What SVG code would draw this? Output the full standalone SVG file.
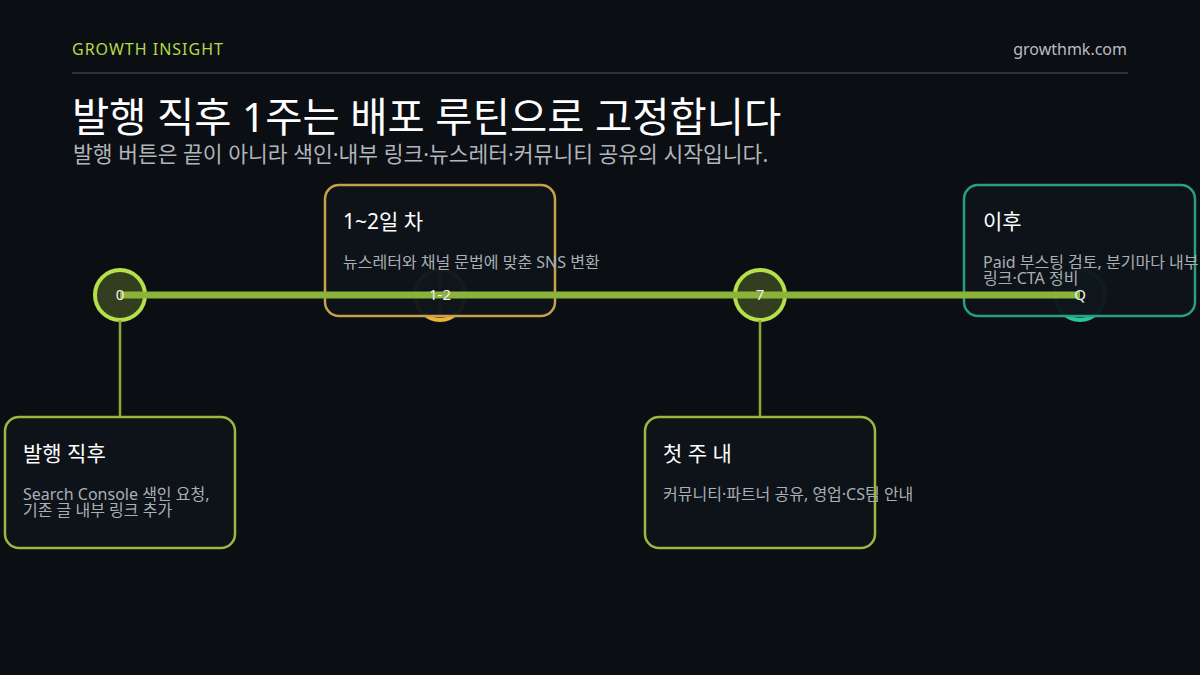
<svg xmlns="http://www.w3.org/2000/svg" width="1200" height="675" viewBox="0 0 1200 675">
<style>
text{font-family:"Noto Sans","Noto Sans CJK KR",sans-serif}
.card{fill:#0e141a;fill-opacity:0.96;stroke-width:2.5}
.ct{font-size:21px;fill:#ffffff}
.cd{font-size:16px;fill:#a9afb5}
.num{font-size:15px;fill:#f0f0f0;text-anchor:middle}
.ring{stroke-width:4}
</style>
<rect width="1200" height="675" fill="#0b0e13"/>
<g id="header">
<text x="72" y="55" font-size="16" fill="#b5d94a" letter-spacing="1">GROWTH INSIGHT</text>
<text x="1127" y="55" font-size="16" fill="#b8bcc2" text-anchor="end">growthmk.com</text>
<line x1="72" y1="73" x2="1128" y2="73" stroke="#2e3238" stroke-width="2"/>
<text x="72" y="132" font-size="40.5" fill="#ffffff">발행 직후 1주는 배포 루틴으로 고정합니다</text>
<text x="73" y="162" font-size="21.5" fill="#b0b5bb">발행 버튼은 끝이 아니라 색인·내부 링크·뉴스레터·커뮤니티 공유의 시작입니다.</text>
</g>
<g id="markers">
<circle cx="120" cy="295" r="25" fill="#333d1f" stroke="#b5e04a" class="ring"/>
<circle cx="440" cy="295" r="25" fill="#3d3420" stroke="#f0b03a" class="ring"/>
<circle cx="760" cy="295" r="25" fill="#333d1f" stroke="#b5e04a" class="ring"/>
<circle cx="1080" cy="295" r="25" fill="#1d3a33" stroke="#2bc49a" class="ring"/>
</g>
<g id="connectors" stroke-width="2.5">
<line x1="120" y1="320" x2="120" y2="417" stroke="#8fa83a"/>
<line x1="760" y1="320" x2="760" y2="417" stroke="#8fa83a"/>
<line x1="440" y1="270" x2="440" y2="316" stroke="#b8923a"/>
<line x1="1080" y1="270" x2="1080" y2="316" stroke="#2a9e85"/>
</g>
<g id="card-day0">
<rect class="card" x="5" y="417" width="230" height="131" rx="14" stroke="#9ab83e"/>
<text class="ct" x="23" y="461">발행 직후</text>
<text class="cd" x="23" y="500">Search Console 색인 요청,</text>
<text class="cd" x="23" y="516">기존 글 내부 링크 추가</text>
</g>
<g id="card-day12">
<rect class="card" x="325" y="185" width="230" height="131" rx="14" stroke="#c9a04a"/>
<text class="ct" x="343" y="229">1~2일 차</text>
<text class="cd" x="343" y="268">뉴스레터와 채널 문법에 맞춘 SNS 변환</text>
</g>
<g id="card-week">
<rect class="card" x="645" y="417" width="230" height="131" rx="14" stroke="#9ab83e"/>
<text class="ct" x="663" y="461">첫 주 내</text>
<text class="cd" x="663" y="500">커뮤니티·파트너 공유, 영업·CS팀 안내</text>
</g>
<g id="card-after">
<rect class="card" x="964" y="185" width="231" height="131" rx="14" stroke="#2a9e85"/>
<text class="ct" x="983" y="229">이후</text>
<text class="cd" x="983" y="268">Paid 부스팅 검토, 분기마다 내부</text>
<text class="cd" x="983" y="284">링크·CTA 정비</text>
</g>
<g id="timeline">
<line x1="120" y1="295" x2="1080" y2="295" stroke="#8ab33a" stroke-width="7"/>
<text class="num" x="120" y="300">0</text>
<text class="num" x="440" y="300">1-2</text>
<text class="num" x="760" y="300">7</text>
<text class="num" x="1080" y="300">Q</text>
</g>
</svg>
